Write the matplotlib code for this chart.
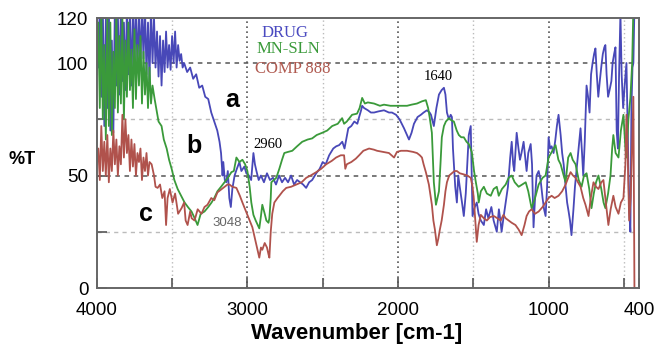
import matplotlib
matplotlib.use("Agg")
import matplotlib.pyplot as plt
import numpy as np

# FTIR spectra, values
drug_wn = [4000, 3990, 3980, 3970, 3960, 3950, 3940, 3930, 3920, 3910, 3900, 3890, 3880, 3870, 3860, 3850,
           3840, 3830, 3820, 3810, 3800, 3790, 3780, 3770, 3760, 3750, 3740, 3730, 3720, 3710, 3700, 3690,
           3680, 3670, 3660, 3650, 3640, 3630, 3620, 3610, 3600, 3590, 3580, 3570, 3560, 3550, 3540, 3530,
           3520, 3510, 3500, 3490, 3480, 3470, 3460, 3450, 3440, 3430, 3420, 3400, 3380, 3360, 3340, 3320,
           3300, 3280, 3260, 3240, 3220, 3200, 3185, 3175, 3165, 3160, 3150, 3140, 3130, 3120, 3110, 3100,
           3085, 3070, 3053, 3040, 3020, 3007, 2990, 2975, 2960, 2950, 2940, 2925, 2910, 2890, 2870, 2850,
           2830, 2810, 2790, 2770, 2750, 2730, 2710, 2690, 2670, 2650, 2630, 2610, 2590, 2570, 2543, 2520,
           2500, 2480, 2457, 2430, 2410, 2391, 2370, 2355, 2344, 2330, 2310, 2290, 2270, 2258, 2245, 2238,
           2225, 2200, 2180, 2159, 2130, 2093, 2060, 2040, 2013, 1990, 1960, 1940, 1927, 1910, 1894, 1870,
           1848, 1830, 1808, 1790, 1781, 1762, 1745, 1728, 1710, 1695, 1685, 1675, 1662, 1650, 1642, 1635,
           1620, 1609, 1600, 1590, 1575, 1563, 1550, 1540, 1530, 1517, 1510, 1505, 1490, 1477, 1465, 1450,
           1430, 1415, 1400, 1380, 1365, 1344, 1330, 1320, 1312, 1300, 1285, 1270, 1255, 1245, 1235, 1228,
           1212, 1200, 1190, 1180, 1166, 1155, 1146, 1135, 1119, 1110, 1100, 1090, 1080, 1066, 1053, 1040,
           1030, 1020, 1010, 1000, 990, 980, 967, 955, 945, 934, 920, 910, 900, 887, 877, 867,
           858, 848, 835, 825, 815, 800, 788, 778, 770, 760, 748, 738, 728, 718, 708, 698,
           689, 680, 670, 660, 649, 640, 630, 623, 615, 605, 595, 583, 575, 565, 556, 548,
           540, 532, 523, 515, 505, 495, 483, 475, 465, 457, 450, 443, 437, 430]
drug_t = [125, 98, 125, 85, 125, 72, 120, 80, 125, 70, 110, 69, 125, 90, 122, 86,
          125, 92, 118, 88, 125, 95, 122, 90, 125, 100, 125, 98, 121, 100, 125, 102,
          125, 95, 118, 92, 125, 100, 120, 98, 114, 94, 112, 90, 110, 96, 114, 98,
          108, 97, 112, 100, 114, 98, 108, 101, 104, 98, 100, 96, 98, 93, 95, 89,
          90, 85, 84, 78, 74, 70, 65, 60, 50, 56, 48, 47, 52, 40, 36, 44,
          50, 53, 56, 52, 54, 51, 50, 48, 60, 55, 52, 48, 50, 47, 51, 48,
          49, 46, 50, 47, 49, 47, 50, 46, 48, 47, 46, 44.5, 47, 48, 51, 53,
          56, 55, 59, 62, 63, 63.5, 65, 62, 66, 71, 72, 74, 73, 76, 79, 81,
          80, 79, 78, 78, 78.5, 79, 78, 78, 77, 75, 71, 68, 66, 69, 73, 76,
          77, 78, 79, 78, 77, 72, 80, 86, 88, 89, 86, 78, 75, 77, 76, 62,
          45, 38, 50, 45, 38, 32, 42, 55, 68, 72, 50, 32, 36, 38, 33, 30,
          28, 35, 31, 36, 30, 25, 35, 30, 25, 31, 38, 45, 58, 65, 55, 52,
          69, 62, 57, 60, 65, 58, 52, 60, 64, 55, 27, 40, 50, 52, 48, 40,
          35, 32, 45, 67, 62, 63, 60, 66, 72, 77, 68, 60, 55, 45, 38, 34,
          30, 23.5, 35, 45, 52, 62, 71, 60, 50, 65, 90, 85, 78, 95, 100, 104,
          106.5, 95, 85, 92, 99, 104, 107, 108, 95, 85, 88, 92, 100, 104, 107, 70,
          62, 95, 122, 95, 80, 90, 100, 70, 35, 25, 80, 98, 100, 125]

sln_wn = [4000, 3990, 3980, 3970, 3960, 3950, 3940, 3930, 3920, 3910, 3900, 3890, 3880, 3870, 3860, 3850,
          3840, 3830, 3820, 3810, 3800, 3790, 3780, 3770, 3760, 3750, 3740, 3730, 3720, 3710, 3700, 3690,
          3680, 3670, 3660, 3650, 3640, 3630, 3616, 3600, 3590, 3570, 3555, 3536, 3520, 3503, 3485, 3463,
          3440, 3417, 3395, 3371, 3350, 3331, 3310, 3285, 3260, 3238, 3220, 3199, 3175, 3152, 3130, 3106,
          3090, 3073, 3053, 3033, 3015, 3000, 2985, 2974, 2960, 2945, 2921, 2910, 2901, 2885, 2874, 2860,
          2854, 2845, 2841, 2825, 2808, 2788, 2770, 2755, 2730, 2702, 2670, 2636, 2600, 2570, 2540, 2503,
          2470, 2437, 2400, 2371, 2358, 2340, 2305, 2272, 2255, 2238, 2220, 2200, 2159, 2120, 2093, 2050,
          2007, 1970, 1940, 1910, 1874, 1840, 1815, 1800, 1790, 1775, 1762, 1748, 1738, 1728, 1718, 1709,
          1695, 1682, 1662, 1645, 1629, 1610, 1596, 1580, 1563, 1545, 1530, 1510, 1495, 1483, 1470, 1464,
          1450, 1430, 1410, 1384, 1365, 1344, 1331, 1310, 1285, 1265, 1245, 1225, 1199, 1175, 1152, 1135,
          1113, 1090, 1066, 1040, 1020, 1000, 975, 954, 935, 920, 900, 887, 870, 854, 840, 821,
          800, 781, 765, 748, 730, 715, 700, 685, 669, 650, 635, 623, 605, 589, 578, 570,
          555, 536, 520, 503, 490, 483, 470, 457, 445, 437]
sln_t = [95, 118, 80, 125, 75, 108, 66, 122, 72, 118, 68, 105, 80, 124, 78, 112,
         82, 120, 75, 110, 85, 118, 88, 106, 80, 115, 84, 108, 90, 112, 82, 105,
         86, 100, 80, 98, 82, 90, 84, 78, 74, 72, 66, 62, 57, 53, 48, 44,
         41, 38, 36, 34, 31, 28, 33, 34, 36, 38, 40, 43, 45, 47, 49, 51.5,
         52, 58, 56, 57, 55, 52, 45, 38, 32.5, 30, 26.5, 32, 37, 33, 30, 29,
         31, 40, 47, 48, 49, 53, 57, 60, 60.5, 61, 63, 65, 66, 66.5, 68, 69,
         70, 72, 73, 75.5, 73, 74, 77, 77.5, 80, 84.5, 82, 82.5, 82, 81, 81.5, 81,
         81, 81, 81, 81.5, 82, 83, 83.5, 80, 76, 69, 47, 37, 40, 43, 55, 67,
         72, 74, 75.5, 74.5, 74, 70, 68, 67, 67, 65, 64, 60.5, 52, 47, 42, 38,
         43, 45, 42, 41, 44, 45, 41, 44, 46, 49, 50, 47, 45, 46, 47, 43,
         35.5, 40, 46, 49, 50, 58, 61, 63.5, 57, 55, 50, 47, 58, 60, 57, 55,
         48, 45, 50, 51, 44, 35.5, 42, 47, 50, 44, 38, 35.5, 42, 50, 62, 68,
         60, 58, 70, 77, 62, 58, 75, 84.5, 100, 125]

comp_wn = [4000, 3990, 3980, 3970, 3960, 3950, 3940, 3930, 3920, 3910, 3900, 3890, 3880, 3870, 3860, 3850,
           3840, 3830, 3820, 3810, 3800, 3790, 3780, 3770, 3760, 3750, 3740, 3730, 3720, 3710, 3700, 3690,
           3680, 3670, 3660, 3650, 3636, 3620, 3610, 3596, 3580, 3565, 3550, 3540, 3530, 3515, 3497, 3480,
           3460, 3437, 3420, 3410, 3397, 3380, 3370, 3351, 3330, 3305, 3285, 3265, 3240, 3220, 3199, 3170,
           3150, 3132, 3119, 3100, 3073, 3050, 3033, 3015, 3000, 2985, 2967, 2950, 2940, 2930, 2921, 2910,
           2901, 2885, 2870, 2860, 2854, 2845, 2835, 2821, 2800, 2788, 2765, 2742, 2710, 2675, 2640, 2609,
           2580, 2543, 2510, 2477, 2440, 2411, 2380, 2358, 2350, 2340, 2310, 2280, 2258, 2230, 2192, 2160,
           2139, 2100, 2060, 2026, 2007, 1980, 1940, 1900, 1874, 1855, 1841, 1830, 1815, 1795, 1775, 1765,
           1755, 1742, 1732, 1722, 1710, 1695, 1685, 1675, 1660, 1642, 1625, 1609, 1590, 1563, 1540, 1517,
           1505, 1497, 1485, 1477, 1465, 1450, 1430, 1410, 1390, 1364, 1340, 1318, 1300, 1285, 1265, 1245,
           1220, 1199, 1179, 1160, 1146, 1130, 1113, 1090, 1066, 1040, 1020, 1000, 980, 960, 934, 910,
           887, 870, 854, 838, 821, 805, 788, 770, 755, 735, 720, 702, 685, 669, 650, 636,
           620, 603, 588, 570, 555, 536, 520, 503, 490, 483, 475, 465, 455, 445, 437, 430]
comp_t = [55, 62, 48, 72, 52, 65, 50, 68, 47, 62, 52, 70, 55, 66, 50, 63,
          55, 77, 58, 75, 60, 68, 52, 66, 54, 64, 50, 60, 56, 62, 48, 58,
          52, 60, 50, 56, 55, 50, 45, 44.5, 46, 40, 43, 28, 40, 44, 38, 42,
          33, 35.5, 38, 30, 28, 34, 31, 30, 35, 33, 36, 37, 40, 39, 42.5, 44,
          45, 46, 46, 45, 44.5, 41, 38, 35, 32.5, 30, 27, 22, 19, 16, 13.5, 18,
          17, 20, 18, 15, 13.5, 25, 33, 38, 40, 41, 43, 44.5, 45, 46, 47, 49,
          50, 51.5, 53, 55, 56.5, 58, 59, 59, 53, 55, 56, 57.5, 59, 61, 62, 61.5,
          61, 60.5, 60, 58, 60.5, 61, 61, 60.5, 60, 59, 58, 55, 51.5, 46, 37, 30,
          26, 19, 22, 26, 30, 37, 43, 47, 50, 51, 52, 52, 51, 50.5, 50, 49,
          45, 40, 28, 20.5, 28, 32.5, 31, 30, 31.5, 32, 31, 30, 32.5, 31, 30, 29,
          28, 26, 23.5, 28, 32, 34, 35, 33, 34, 36, 38, 40, 41, 40, 41, 43,
          46, 49, 51.5, 50, 49, 47, 45, 40, 37, 32, 40, 47, 45, 44, 47, 48,
          38, 28, 35, 41, 36, 33, 38, 40, 55, 77, 60, 30, 40, 65, 85, 0]

blue = "#4848b8"
green = "#3a9a3a"
red = "#b0524c"

fig = plt.figure(figsize=(6.54, 3.47), dpi=100)
ax = fig.add_axes([0.148, 0.170, 0.829, 0.778])

ax.plot(drug_wn, drug_t, color=blue, lw=1.3)
ax.plot(sln_wn, sln_t, color=green, lw=1.3)
ax.plot(comp_wn, comp_t, color=red, lw=1.3)

ax.set_xlim(4000, 400)
ax.set_ylim(0, 120)

# grid: dark at major, light at the halves
for w in [3000, 2000, 1000]:
    ax.axvline(w, color="#555555", ls=(0, (1, 2)), lw=1.2, zorder=0)
for w in [3500, 2500, 1500, 500]:
    ax.axvline(w, color="#bbbbbb", ls=(0, (1, 2)), lw=1.0, zorder=0)
for t in [50, 100]:
    ax.axhline(t, color="#555555", ls=(0, (3, 3)), lw=1.1, zorder=0)
for t in [25, 75]:
    ax.axhline(t, color="#bbbbbb", ls=(0, (3, 3)), lw=1.0, zorder=0)

ax.set_xticks([4000, 3500, 3000, 2500, 2000, 1500, 1000, 500, 400])
ax.set_xticklabels(["4000", "", "3000", "", "2000", "", "1000", "", "400"])
ax.set_yticks([0, 25, 50, 75, 100, 120])
ax.set_yticklabels(["0", "", "50", "", "100", "120"])
ax.tick_params(direction="in", length=7, width=1.2, color="#555555", labelsize=13.5)
ax.tick_params(axis="x", pad=10)
ax.tick_params(axis="y", pad=6)
for lab in ax.get_xticklabels() + ax.get_yticklabels():
    lab.set_fontfamily("Liberation Sans")
for s in ax.spines.values():
    s.set_color("#666666")
    s.set_linewidth(1.4)

# legend as coloured text
ax.text(2904, 113.3, "DRUG", color="#4a4ac0", fontsize=12, family="Liberation Serif", va="center")
ax.text(2937, 106.2, "MN-SLN", color="#3a9a3a", fontsize=12, family="Liberation Serif", va="center")
ax.text(2950, 97.3, "COMP 888", color="#b05a50", fontsize=12, family="Liberation Serif", va="center")

# curve letters and peak labels
for x, y, s in [(3103, 83.6, "a"), (3355, 63, "b"), (3674, 33, "c")]:
    ax.text(x, y, s, fontsize=18, fontweight="bold", family="Liberation Sans",
            ha="center", va="center")
ax.text(2864, 64, "2960", fontsize=10.5, family="Liberation Serif", ha="center", va="center")
ax.text(1734, 93.8, "1640", fontsize=10.5, family="Liberation Serif", ha="center", va="center")
ax.text(3136, 29, "3048", fontsize=9.5, color="#666666", family="Liberation Sans",
        ha="center", va="center")

fig.text(22 / 654, 1 - 160 / 347, "%T", fontsize=13, fontweight="bold",
         family="Liberation Sans", ha="center", va="center")
fig.text(357 / 654, 1 - 334 / 347, "Wavenumber [cm-1]", fontsize=16, fontweight="bold",
         family="Liberation Sans", ha="center", va="center")

fig.savefig("out.png", dpi=100)
